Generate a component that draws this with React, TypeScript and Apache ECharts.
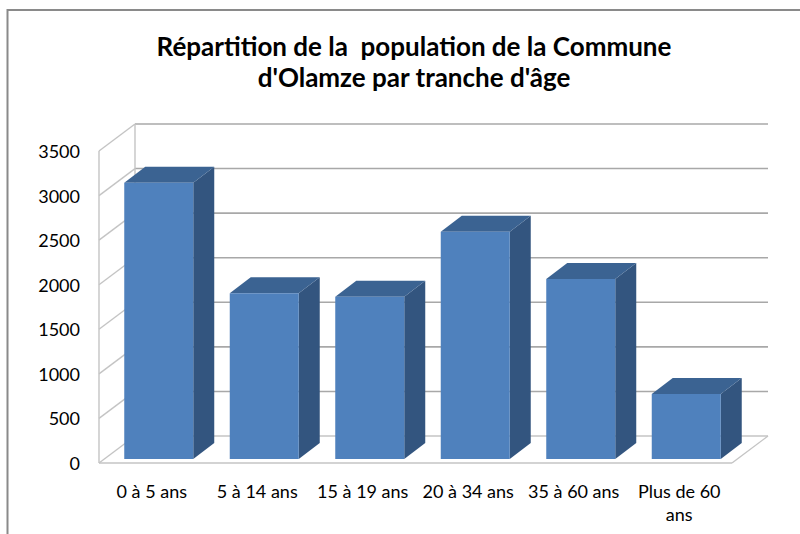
import React, { useEffect, useRef } from "react";
import * as echarts from "echarts";

const titleLines = ["Répartition de la  population de la Commune", "d'Olamze par tranche d'âge"];
const categories = ["0 à 5 ans", "5 à 14 ans", "15 à 19 ans", "20 à 34 ans", "35 à 60 ans", "Plus de 60 ans"];
const population = [3100, 1860, 1820, 2550, 2020, 730];
const yMin = 0;
const yMax = 3500;
const yStep = 500;

// 3D projection offsets (pixels)
const WALL = [36, -27];
const BAR_FRONT = [7, -4];
const BAR_DEPTH = [21, -16];

export default function App() {
  const ref = useRef<HTMLDivElement>(null);
  useEffect(() => {
    if (!ref.current) return;
    const chart = echarts.init(ref.current, undefined, { renderer: "svg" });
    const font = "Lato, 'Open Sans', sans-serif";
    const ticks: number[] = [];
    for (let v = yMin; v <= yMax; v += yStep) ticks.push(v);

    const wallRender = (params: any, api: any) => {
      const cs = params.coordSys;
      const x0 = cs.x;
      const x1 = cs.x + cs.width;
      const children: any[] = [];
      const grid = { stroke: "#a8a8a8", lineWidth: 1.6 };
      const edge = { stroke: "#c4c4c4", lineWidth: 1.4 };
      ticks.forEach((v) => {
        const y = api.coord([0, v])[1];
        children.push({
          type: "line",
          shape: { x1: x0 + WALL[0], y1: y + WALL[1], x2: x1 + WALL[0], y2: y + WALL[1] },
          style: v === yMin ? edge : grid,
        });
        children.push({
          type: "line",
          shape: { x1: x0, y1: y, x2: x0 + WALL[0], y2: y + WALL[1] },
          style: edge,
        });
      });
      const yb = api.coord([0, yMin])[1];
      const yt = api.coord([0, yMax])[1];
      children.push({ type: "line", shape: { x1: x0, y1: yb, x2: x0, y2: yt }, style: edge });
      children.push({
        type: "line",
        shape: { x1: x0 + WALL[0], y1: yb + WALL[1], x2: x0 + WALL[0], y2: yt + WALL[1] },
        style: edge,
      });
      children.push({ type: "line", shape: { x1: x0, y1: yb, x2: x1, y2: yb }, style: edge });
      children.push({
        type: "line",
        shape: { x1: x1, y1: yb, x2: x1 + WALL[0], y2: yb + WALL[1] },
        style: edge,
      });
      return { type: "group", children };
    };

    const barRender = (params: any, api: any) => {
      const idx = api.value(0);
      const val = api.value(1);
      const base = api.coord([idx, 0]);
      const top = api.coord([idx, val]);
      const band = api.size([1, 0])[0];
      const bw = band * 0.654;
      const l = base[0] - bw / 2 + BAR_FRONT[0];
      const r = l + bw;
      const yb = base[1] + BAR_FRONT[1];
      const yt = top[1] + BAR_FRONT[1];
      const dx = BAR_DEPTH[0];
      const dy = BAR_DEPTH[1];
      return {
        type: "group",
        children: [
          {
            type: "polygon",
            shape: { points: [[r, yt], [r + dx, yt + dy], [r + dx, yb + dy], [r, yb]] },
            style: { fill: "#33557f" },
          },
          {
            type: "polygon",
            shape: { points: [[l, yt], [l + dx, yt + dy], [r + dx, yt + dy], [r, yt]] },
            style: { fill: "#3b6392" },
          },
          {
            type: "rect",
            shape: { x: l, y: yt, width: bw, height: yb - yt },
            style: { fill: "#4f81bd" },
          },
        ],
      };
    };

    chart.setOption({
      animation: false,
      backgroundColor: "#ffffff",
      title: {
        text: titleLines.join("\n"),
        left: 409,
        top: 25,
        textAlign: "center",
        textStyle: { fontFamily: font, fontSize: 26, fontWeight: "bold", color: "#000", lineHeight: 31 },
      },
      graphic: [
        {
          type: "rect",
          shape: { x: 7.5, y: 10, width: 900, height: 700 },
          style: { fill: "none", stroke: "#8a8a8a", lineWidth: 2 },
          silent: true,
        },
      ],
      grid: { left: 99, right: 68, top: 151, bottom: 71, containLabel: false, outerBoundsMode: "none" },
      xAxis: {
        type: "category",
        data: categories,
        axisLine: { show: false },
        axisTick: { show: false },
        splitLine: { show: false },
        axisLabel: {
          margin: 16,
          fontFamily: font,
          fontSize: 18,
          color: "#000",
          lineHeight: 23,
          interval: 0,
          formatter: (v: string) => (v.length > 12 ? v.replace(/ (\S+)$/, "\n$1") : v),
        },
      },
      yAxis: {
        type: "value",
        min: yMin,
        max: yMax,
        interval: yStep,
        axisLine: { show: false },
        axisTick: { show: false },
        splitLine: { show: false },
        axisLabel: {
          margin: 19,
          fontFamily: font,
          fontSize: 18,
          color: "#000",
          formatter: (v: number) => String(v),
        },
      },
      series: [
        {
          type: "custom",
          renderItem: wallRender,
          data: [[0, 0]],
          clip: false,
          silent: true,
          z: 1,
        },
        {
          type: "custom",
          renderItem: barRender,
          data: population.map((v, i) => [i, v]),
          clip: false,
          z: 2,
        },
      ],
    });
    return () => chart.dispose();
  }, []);
  return <div ref={ref} style={{ position: "absolute", left: 0, top: 0, width: 800, height: 534 }} />;
}
